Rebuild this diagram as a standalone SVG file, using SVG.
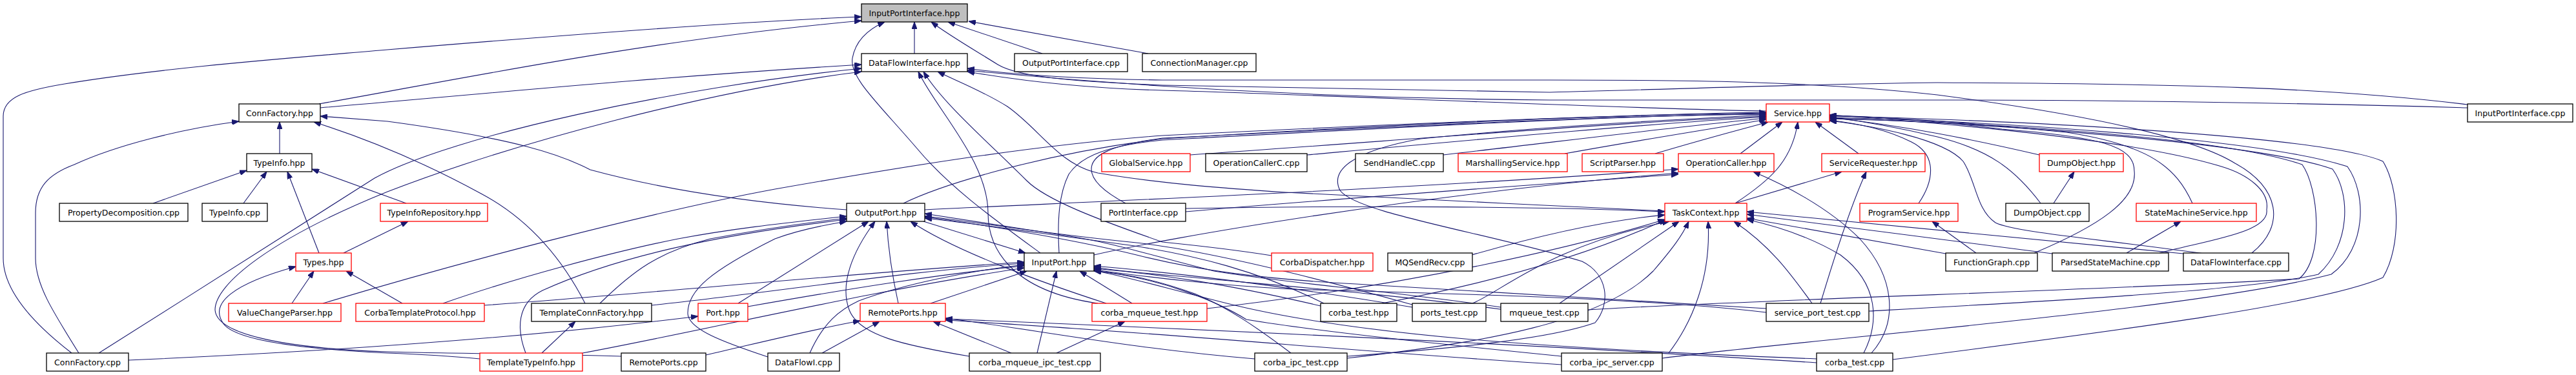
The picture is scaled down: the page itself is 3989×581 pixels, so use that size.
<svg xmlns="http://www.w3.org/2000/svg" width="3989" height="581" viewBox="0 0 3989 581">
<style>
.n rect{fill:#fff;stroke:#000;stroke-width:1.3}
.n.r rect{stroke:#ff0000}
.n.g rect{fill:#bfbfbf}
text{font-family:"DejaVu Sans","Liberation Sans",sans-serif;font-size:12.5px;text-anchor:middle;fill:#000}
#edges path{fill:none;stroke:#191970;stroke-width:1.1;marker-end:url(#a)}
</style>
<defs>
<marker id="a" viewBox="0 0 11 8" refX="11" refY="4" markerWidth="11" markerHeight="8" markerUnits="userSpaceOnUse" orient="auto"><path d="M0,0 L11,4 L0,8 z" fill="#191970" stroke="#191970" stroke-width="1"/></marker>
</defs>
<rect width="3989" height="581" fill="#fff"/>
<g id="edges">
<path d="M494,161 C700,125 1000,62 1334,32"/>
<path d="M111,547 C50,500 5,450 5,400 L5,180 C5,150 40,140 100,130 C250,105 450,90 600,77 C900,52 1150,33 1334,26"/>
<path d="M1416,83 L1416,34"/>
<path d="M1611,392 C1540,340 1470,290 1420,230 C1360,160 1315,120 1320,90 C1325,62 1345,45 1370,34"/>
<path d="M3821,162 C3600,135 3380,130 3000,128 C2800,130 2600,138 2400,143 C2100,138 1900,134 1800,132 C1650,126 1575,118 1545,100 C1510,78 1470,55 1442,34"/>
<path d="M1614,83 L1468,34"/>
<path d="M1778,83 L1500,33"/>
<path d="M496,167 C700,150 1000,120 1334,100"/>
<path d="M153,547 C300,454 480,340 580,276 C700,210 1050,135 1334,106"/>
<path d="M962,552 C850,548 700,548 600,545 C450,540 335,520 333,480 C333,440 420,370 600,297 C800,220 1100,140 1334,111"/>
<path d="M2735,172 C2500,168 2000,145 1800,140 C1650,136 1550,120 1498,111"/>
<path d="M3821,167 C3500,158 3200,155 3000,155 L2400,155 C2100,153 1800,138 1498,109"/>
<path d="M3487,392 C3540,350 3530,290 3461,253 C3400,215 3250,180 3000,147 C2800,125 2600,124 2400,124 L1800,124 C1650,122 1550,113 1498,106"/>
<path d="M1969,396 C1900,385 1850,380 1800,375 C1700,340 1620,310 1590,280 C1530,220 1460,160 1430,111"/>
<path d="M2578,327 C2400,318 2100,305 1991,298 C1900,292 1800,285 1700,268 C1640,255 1610,200 1560,165 C1520,140 1480,125 1452,111"/>
<path d="M1700,470 C1560,450 1530,380 1530,330 C1530,250 1450,170 1422,111"/>
<path d="M433,238 L433,189"/>
<path d="M1311,325 C1200,317 1050,300 914,263 C870,240 800,215 600,188 L496,180"/>
<path d="M906,470 C870,400 820,340 745,300 C690,270 600,225 486,189"/>
<path d="M122,547 C80,480 55,440 55,400 L55,330 C55,290 75,270 115,255 C180,225 280,200 370,188"/>
<path d="M237,315 L382,264"/>
<path d="M377,315 L413,266"/>
<path d="M494,392 L445,266"/>
<path d="M629,315 L483,262"/>
<path d="M532,392 L632,343"/>
<path d="M452,470 L486,420"/>
<path d="M623,470 L536,420"/>
<path d="M743,556 C700,552 650,549 600,547 C450,540 360,525 345,500 C325,470 360,440 458,413"/>
<path d="M500,470 C700,410 1000,330 1200,293 C1400,258 1600,225 1800,210 C2200,190 2500,178 2735,174"/>
<path d="M686,470 C800,430 950,390 1050,370 C1130,355 1200,347 1311,335"/>
<path d="M929,470 C980,420 1020,390 1100,370 C1180,355 1250,345 1311,338"/>
<path d="M814,547 C800,510 800,470 840,450 C950,400 1100,365 1311,340"/>
<path d="M1189,553 C1120,530 1065,510 1065,485 C1065,450 1100,420 1200,370 C1240,355 1280,348 1311,343"/>
<path d="M1143,470 L1345,343"/>
<path d="M750,473 C1000,455 1300,425 1586,406"/>
<path d="M1009,473 C1200,453 1400,420 1586,408"/>
<path d="M1158,475 C1300,450 1450,425 1586,412"/>
<path d="M902,547 C1100,510 1350,450 1586,415"/>
<path d="M839,547 L891,498"/>
<path d="M199,558 C500,545 800,525 1081,490"/>
<path d="M1093,550 C1180,530 1260,510 1332,497"/>
<path d="M1391,470 C1380,420 1375,380 1373,343"/>
<path d="M1441,470 L1590,420"/>
<path d="M1273,547 L1362,498"/>
<path d="M1254,547 C1275,500 1300,480 1330,466 C1400,440 1500,420 1586,410"/>
<path d="M1566,547 L1445,498"/>
<path d="M1501,552 C1400,535 1330,520 1315,480 C1300,440 1320,390 1355,343"/>
<path d="M1606,547 L1636,420"/>
<path d="M1636,547 L1742,498"/>
<path d="M1753,470 L1672,420"/>
<path d="M1713,470 C1620,440 1480,390 1410,343"/>
<path d="M1430,343 L1588,392"/>
<path d="M1640,392 C1637,340 1640,300 1655,270 C1675,240 1720,225 1800,217 C2200,195 2500,180 2735,176"/>
<path d="M1399,315 C1450,290 1600,240 1800,215 C2200,190 2500,178 2735,175"/>
<path d="M1743,315 C1715,300 1690,282 1690,262 C1690,240 1720,225 1800,214 C2200,194 2500,179 2735,177"/>
<path d="M1836,323 C2100,318 2400,320 2578,328"/>
<path d="M1432,325 C1700,312 2200,292 2599,262"/>
<path d="M1694,395 C1800,370 2200,300 2599,268"/>
<path d="M1836,328 C2100,305 2400,285 2599,270"/>
<path d="M2687,315 C2740,280 2775,250 2784,189"/>
<path d="M2898,547 C2940,500 2935,430 2880,370 C2830,320 2760,285 2715,266"/>
<path d="M2886,547 C2910,500 2910,440 2850,395 C2800,365 2750,350 2705,340"/>
<path d="M2931,557 C3300,510 3600,470 3690,430 C3720,380 3715,290 3690,250 C3600,210 3100,185 2833,180"/>
<path d="M2574,555 C2800,525 3400,480 3610,425 C3665,385 3665,300 3635,258 C3500,215 3100,188 2833,182"/>
<path d="M2894,482 C3200,465 3480,450 3590,425 C3640,380 3640,300 3612,262 C3500,222 3100,192 2833,183"/>
<path d="M2459,480 C2700,465 3300,448 3560,432 C3600,400 3590,290 3565,255 C3450,215 3100,190 2833,184"/>
<path d="M2971,315 C2995,280 3000,240 2960,220 C2920,200 2880,192 2833,186"/>
<path d="M3158,240 C3050,215 2950,195 2833,182"/>
<path d="M3160,315 C3120,262 3080,232 3000,212 C2950,200 2900,190 2833,181"/>
<path d="M3150,392 C3250,350 3310,310 3305,265 C3305,225 3250,212 3100,200 C3000,188 2900,180 2833,179"/>
<path d="M3395,315 C3370,260 3330,225 3200,205 C3050,190 2950,183 2833,179"/>
<path d="M3344,392 C3420,372 3515,360 3510,325 C3515,295 3480,270 3440,258 C3300,215 3000,190 2833,178"/>
<path d="M3420,394 C3250,370 3120,360 3090,345 C3060,325 3060,280 3040,250 C3010,215 2900,195 2833,187"/>
<path d="M2878,238 L2811,189"/>
<path d="M2695,238 L2760,189"/>
<path d="M1843,240 C2200,215 2500,190 2735,180"/>
<path d="M2024,240 C2300,215 2550,192 2735,181"/>
<path d="M2235,240 C2450,215 2600,196 2735,183"/>
<path d="M2423,238 C2550,215 2650,200 2735,185"/>
<path d="M2563,238 C2640,215 2690,202 2738,189"/>
<path d="M2687,315 L2852,266"/>
<path d="M2819,470 C2840,400 2865,320 2890,266"/>
<path d="M2806,470 C2770,420 2740,380 2685,343"/>
<path d="M3060,392 L2992,343"/>
<path d="M3180,315 L3212,266"/>
<path d="M3293,392 L3377,343"/>
<path d="M3013,393 L2705,338"/>
<path d="M3178,393 L2705,332"/>
<path d="M3381,393 L2705,328"/>
<path d="M2279,395 C2400,360 2500,340 2578,333"/>
<path d="M2584,547 C2620,500 2650,430 2645,343"/>
<path d="M2086,555 C2300,530 2480,500 2560,420 C2590,385 2605,365 2615,343"/>
<path d="M2813,562 C2400,535 1900,512 1464,494"/>
<path d="M2813,556 C2400,540 2100,520 1900,470 C1800,445 1750,430 1694,419"/>
<path d="M2045,474 C1900,440 1800,425 1694,416"/>
<path d="M2050,470 C1950,420 1850,395 1750,380 C1600,360 1500,345 1432,338"/>
<path d="M2140,470 C2300,440 2450,400 2580,340"/>
<path d="M2187,472 C2000,420 1850,385 1750,375 C1600,360 1500,342 1432,335"/>
<path d="M2187,476 C2000,445 1850,425 1694,412"/>
<path d="M2280,470 C2320,455 2400,380 2585,343"/>
<path d="M2324,476 C2150,450 2000,440 1880,420 C1780,395 1720,375 1650,365 C1550,350 1480,338 1432,331"/>
<path d="M2330,480 C2150,455 1950,440 1850,430 C1780,424 1730,420 1694,414"/>
<path d="M2415,470 L2600,343"/>
<path d="M2735,478 C2500,462 2300,450 2100,440 C1950,432 1850,418 1760,395 C1650,368 1500,345 1432,336"/>
<path d="M2735,484 C2550,462 2250,455 2000,448 C1850,440 1750,425 1694,418"/>
<path d="M2418,552 C2250,535 2050,515 1930,495 C1890,470 1800,430 1694,420"/>
<path d="M2418,565 C2100,545 1800,515 1464,496"/>
<path d="M1999,547 C1950,510 1900,475 1850,455 C1780,430 1740,425 1694,419"/>
<path d="M1943,556 C1750,540 1600,510 1464,493"/>
<path d="M1869,478 C2200,440 2450,380 2578,340"/>
<path d="M2086,552 C2250,540 2400,525 2470,500 C2495,470 2490,425 2450,405 C2300,360 2100,330 2075,295 C2060,265 2090,235 2200,215 C2400,195 2600,185 2735,178"/>
</g>
<g id="ipi" class="n g"><rect x="1334" y="6" width="164" height="28"/><text x="1416" y="24.5">InputPortInterface.hpp</text></g>
<g id="dfih" class="n"><rect x="1334" y="83" width="164" height="28"/><text x="1416" y="101.5">DataFlowInterface.hpp</text></g>
<g id="opicpp" class="n"><rect x="1571" y="83" width="175" height="28"/><text x="1658.5" y="101.5">OutputPortInterface.cpp</text></g>
<g id="cmcpp" class="n"><rect x="1769" y="83" width="176" height="28"/><text x="1857" y="101.5">ConnectionManager.cpp</text></g>
<g id="cfh" class="n"><rect x="370" y="161" width="126" height="28"/><text x="433" y="179.5">ConnFactory.hpp</text></g>
<g id="serv" class="n r"><rect x="2735" y="161" width="98" height="28"/><text x="2784" y="179.5">Service.hpp</text></g>
<g id="ipicpp" class="n"><rect x="3821" y="161" width="163" height="28"/><text x="3902.5" y="179.5">InputPortInterface.cpp</text></g>
<g id="tih" class="n"><rect x="382" y="238" width="101" height="28"/><text x="432.5" y="256.5">TypeInfo.hpp</text></g>
<g id="gsh" class="n r"><rect x="1706" y="238" width="137" height="28"/><text x="1774.5" y="256.5">GlobalService.hpp</text></g>
<g id="occ" class="n"><rect x="1867" y="238" width="157" height="28"/><text x="1945.5" y="256.5">OperationCallerC.cpp</text></g>
<g id="shc" class="n"><rect x="2099" y="238" width="136" height="28"/><text x="2167" y="256.5">SendHandleC.cpp</text></g>
<g id="msh" class="n r"><rect x="2258" y="238" width="169" height="28"/><text x="2342.5" y="256.5">MarshallingService.hpp</text></g>
<g id="sph" class="n r"><rect x="2450" y="238" width="126" height="28"/><text x="2513" y="256.5">ScriptParser.hpp</text></g>
<g id="och" class="n r"><rect x="2599" y="238" width="148" height="28"/><text x="2673" y="256.5">OperationCaller.hpp</text></g>
<g id="srh" class="n r"><rect x="2821" y="238" width="160" height="28"/><text x="2901" y="256.5">ServiceRequester.hpp</text></g>
<g id="doh" class="n r"><rect x="3158" y="238" width="130" height="28"/><text x="3223" y="256.5">DumpObject.hpp</text></g>
<g id="pdcpp" class="n"><rect x="92" y="315" width="199" height="28"/><text x="191.5" y="333.5">PropertyDecomposition.cpp</text></g>
<g id="ticpp" class="n"><rect x="313" y="315" width="101" height="28"/><text x="363.5" y="333.5">TypeInfo.cpp</text></g>
<g id="tirh" class="n r"><rect x="589" y="315" width="166" height="28"/><text x="672" y="333.5">TypeInfoRepository.hpp</text></g>
<g id="oph" class="n"><rect x="1311" y="315" width="121" height="28"/><text x="1371.5" y="333.5">OutputPort.hpp</text></g>
<g id="picpp" class="n"><rect x="1705" y="315" width="131" height="28"/><text x="1770.5" y="333.5">PortInterface.cpp</text></g>
<g id="tch" class="n r"><rect x="2578" y="315" width="127" height="28"/><text x="2641.5" y="333.5">TaskContext.hpp</text></g>
<g id="psh" class="n r"><rect x="2880" y="315" width="152" height="28"/><text x="2956" y="333.5">ProgramService.hpp</text></g>
<g id="docpp" class="n"><rect x="3106" y="315" width="129" height="28"/><text x="3170.5" y="333.5">DumpObject.cpp</text></g>
<g id="smsh" class="n r"><rect x="3308" y="315" width="186" height="28"/><text x="3401" y="333.5">StateMachineService.hpp</text></g>
<g id="tyh" class="n r"><rect x="458" y="392" width="86" height="28"/><text x="501" y="410.5">Types.hpp</text></g>
<g id="iph" class="n"><rect x="1586" y="392" width="108" height="28"/><text x="1640" y="410.5">InputPort.hpp</text></g>
<g id="cdh" class="n r"><rect x="1969" y="392" width="157" height="28"/><text x="2047.5" y="410.5">CorbaDispatcher.hpp</text></g>
<g id="mqcpp" class="n"><rect x="2149" y="392" width="131" height="28"/><text x="2214.5" y="410.5">MQSendRecv.cpp</text></g>
<g id="fgcpp" class="n"><rect x="3013" y="392" width="142" height="28"/><text x="3084" y="410.5">FunctionGraph.cpp</text></g>
<g id="psmcpp" class="n"><rect x="3178" y="392" width="180" height="28"/><text x="3268" y="410.5">ParsedStateMachine.cpp</text></g>
<g id="dficpp" class="n"><rect x="3381" y="392" width="163" height="28"/><text x="3462.5" y="410.5">DataFlowInterface.cpp</text></g>
<g id="vcph" class="n r"><rect x="354" y="470" width="174" height="28"/><text x="441" y="488.5">ValueChangeParser.hpp</text></g>
<g id="ctph" class="n r"><rect x="551" y="470" width="199" height="28"/><text x="650.5" y="488.5">CorbaTemplateProtocol.hpp</text></g>
<g id="tcfh" class="n"><rect x="823" y="470" width="186" height="28"/><text x="916" y="488.5">TemplateConnFactory.hpp</text></g>
<g id="porth" class="n r"><rect x="1081" y="470" width="77" height="28"/><text x="1119.5" y="488.5">Port.hpp</text></g>
<g id="rph" class="n r"><rect x="1332" y="470" width="132" height="28"/><text x="1398" y="488.5">RemotePorts.hpp</text></g>
<g id="cmth" class="n r"><rect x="1691" y="470" width="178" height="28"/><text x="1780" y="488.5">corba_mqueue_test.hpp</text></g>
<g id="cthpp" class="n"><rect x="2045" y="470" width="118" height="28"/><text x="2104" y="488.5">corba_test.hpp</text></g>
<g id="ptcpp" class="n"><rect x="2187" y="470" width="114" height="28"/><text x="2244" y="488.5">ports_test.cpp</text></g>
<g id="mtcpp" class="n"><rect x="2324" y="470" width="135" height="28"/><text x="2391.5" y="488.5">mqueue_test.cpp</text></g>
<g id="sptcpp" class="n"><rect x="2735" y="470" width="159" height="28"/><text x="2814.5" y="488.5">service_port_test.cpp</text></g>
<g id="cfcpp" class="n"><rect x="72" y="547" width="127" height="28"/><text x="135.5" y="565.5">ConnFactory.cpp</text></g>
<g id="ttih" class="n r"><rect x="743" y="547" width="159" height="28"/><text x="822.5" y="565.5">TemplateTypeInfo.hpp</text></g>
<g id="rpcpp" class="n"><rect x="962" y="547" width="131" height="28"/><text x="1027.5" y="565.5">RemotePorts.cpp</text></g>
<g id="dficpp2" class="n"><rect x="1189" y="547" width="111" height="28"/><text x="1244.5" y="565.5">DataFlowI.cpp</text></g>
<g id="cmitcpp" class="n"><rect x="1501" y="547" width="203" height="28"/><text x="1602.5" y="565.5">corba_mqueue_ipc_test.cpp</text></g>
<g id="citcpp" class="n"><rect x="1943" y="547" width="143" height="28"/><text x="2014.5" y="565.5">corba_ipc_test.cpp</text></g>
<g id="cisc" class="n"><rect x="2418" y="547" width="156" height="28"/><text x="2496" y="565.5">corba_ipc_server.cpp</text></g>
<g id="ctcpp" class="n"><rect x="2813" y="547" width="118" height="28"/><text x="2872" y="565.5">corba_test.cpp</text></g>
</svg>
